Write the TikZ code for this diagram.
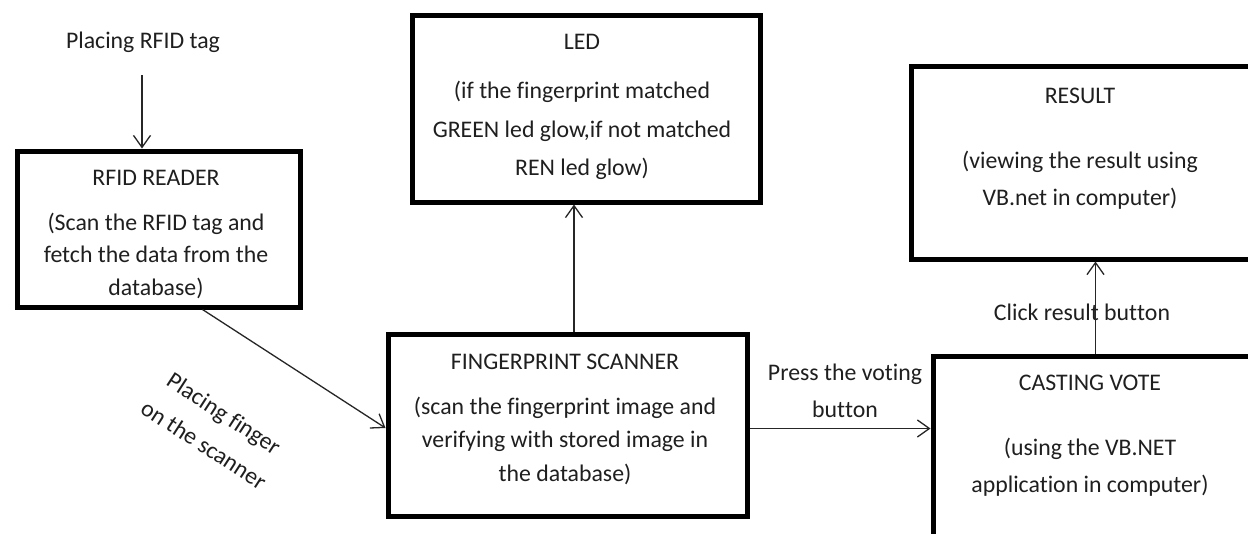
\documentclass[tikz,border=0pt]{standalone}
\usepackage{fontspec}
\setmainfont{Carlito}[Ligatures={NoCommon,NoRequired,NoContextual},RawFeature={-liga,-clig,-dlig,-rlig}]
\usetikzlibrary{arrows.meta}
\newcommand{\nolg}{\kern0pt }
\tikzset{
  box/.style={draw=black, line width=5pt, rectangle, inner sep=0pt, anchor=north west},
  txt/.style={anchor=base, inner sep=0pt, font=\fontsize{23.8}{28}\selectfont, text=black!88},
  conn/.style={draw=black!85, line width=1.3pt},
  arr/.style={conn, -{Straight Barb[length=12pt,width=17pt,line width=1.3pt]}}
}
\begin{document}
\begin{tikzpicture}[x=1pt,y=-1pt]
\useasboundingbox (0,0) rectangle (1248,533);
\clip (0,0) rectangle (1248,533);
\fill[white] (0,0) rectangle (1248,533);

% boxes
\node[box, minimum width=283pt, minimum height=156pt] (rfid) at (14.5,148.5) {};
\node[box, minimum width=348pt, minimum height=187pt] (led) at (409.5,12.5) {};
\node[box, minimum width=342pt, minimum height=193pt] (res) at (909,63.5) {};
\node[box, minimum width=359pt, minimum height=182pt] (fp) at (385.5,331.5) {};
\node[box, minimum width=321pt, minimum height=210pt] (cv) at (930.5,353.5) {};

% texts
\node[txt] (tag) at (143,48) {Placing RFID tag};

\node[txt] (r1) at (156,185) {RFID READER};
\node[txt] (r2) at (156,230) {(Scan the RFID tag and};
\node[txt] (r3) at (156,262) {fetch the data from the};
\node[txt] (r4) at (156,295) {database)};

\node[txt] (l1) at (582,49) {LED};
\node[txt] (l2) at (582,98) {(if the f\nolg ingerprint matched};
\node[txt] (l3) at (582,137) {GREEN led glow,if not matched};
\node[txt] (l4) at (582,175) {REN led glow)};

\node[txt] (s1) at (1080,103) {RESULT};
\node[txt] (s2) at (1080,168) {(viewing the result using};
\node[txt] (s3) at (1080,205) {VB.net in computer)};

\node[txt] (f1) at (565,369) {FINGERPRINT SCANNER};
\node[txt] (f2) at (565,414) {(scan the f\nolg ingerprint image and};
\node[txt] (f3) at (565,447) {verifying with stored image in};
\node[txt] (f4) at (565,481) {the database)};

\node[txt] (c1) at (1090,390) {CASTING VOTE};
\node[txt] (c2) at (1090,455) {(using the VB.NET};
\node[txt] (c3) at (1090,492) {applicat\nolg ion in computer)};

\node[txt] (p1) at (845,380) {Press the vot\nolg ing};
\node[txt] (p2) at (845,417) {but\nolg ton};
\node[txt] (k1) at (1082,320) {Click result but\nolg ton};

\node[txt, anchor=center, rotate=-33, align=center, font=\fontsize{23.8}{37}\selectfont] (g1) at (214,429) {Placing f\nolg inger\\on the scanner};

% connectors
\coordinate (tagstart) at (142,75);
\draw[arr] (tagstart) -- (tagstart |- rfid.north);
\draw[arr] ([xshift=44pt]rfid.south) -- ([yshift=-3pt]fp.west);
\draw[arr] ([xshift=6.5pt]fp.north) -- ([xshift=6.5pt]fp.north |- led.south);
\draw[arr] ([yshift=-3.5pt]fp.east) -- ([yshift=-3.5pt]fp.east -| cv.west);
\draw[arr] ([xshift=2pt]cv.north) -- ([xshift=2pt]cv.north |- res.south);
\end{tikzpicture}
\end{document}
